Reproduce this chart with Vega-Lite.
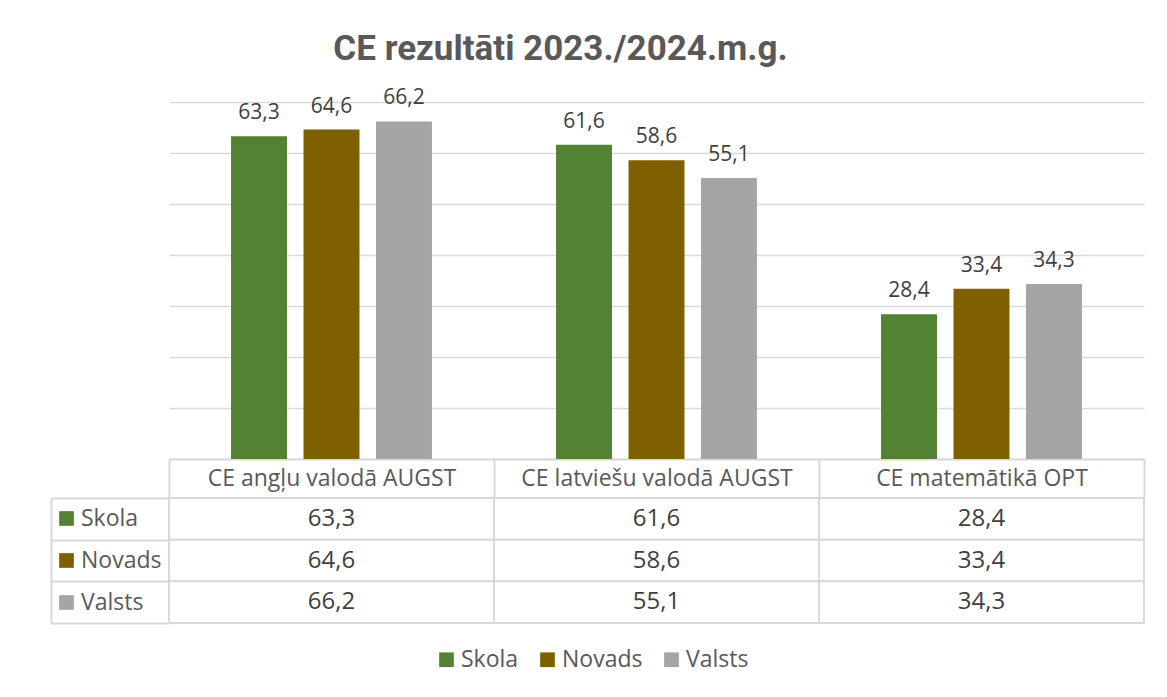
{
  "$schema": "https://vega.github.io/schema/vega-lite/v6.json",
  "background": "white",
  "padding": {"left": 50, "top": 32, "right": 24, "bottom": 20},
  "title": {"text": "CE rezultāti 2023./2024.m.g.", "font": "Roboto", "fontSize": 35, "fontWeight": "bold", "color": "#595959", "anchor": "middle", "dx": -37, "offset": 20},
  "config": {
    "view": {"stroke": null},
    "locale": {"number": {"decimal": ",", "thousands": " ", "grouping": [3], "currency": ["", " €"]}}
  },
  "datasets": {
    "scores": [
      {"cat": "CE angļu valodā AUGST", "series": "Skola", "value": 63.3},
      {"cat": "CE angļu valodā AUGST", "series": "Novads", "value": 64.6},
      {"cat": "CE angļu valodā AUGST", "series": "Valsts", "value": 66.2},
      {"cat": "CE latviešu valodā AUGST", "series": "Skola", "value": 61.6},
      {"cat": "CE latviešu valodā AUGST", "series": "Novads", "value": 58.6},
      {"cat": "CE latviešu valodā AUGST", "series": "Valsts", "value": 55.1},
      {"cat": "CE matemātikā OPT", "series": "Skola", "value": 28.4},
      {"cat": "CE matemātikā OPT", "series": "Novads", "value": 33.4},
      {"cat": "CE matemātikā OPT", "series": "Valsts", "value": 34.3}
    ]
  },
  "bounds": "flush",
  "spacing": 39,
  "vconcat": [
    {
      "width": 975,
      "height": 357,
      "data": {"name": "scores"},
      "encoding": {
        "x": {"field": "cat", "type": "nominal", "sort": ["CE angļu valodā AUGST", "CE latviešu valodā AUGST", "CE matemātikā OPT"],
          "scale": {"paddingInner": 0, "paddingOuter": 0},
          "axis": {"title": null, "orient": "bottom", "domainColor": "#d9d9d9", "domainWidth": 2, "tickBand": "extent", "tickSize": 39, "tickColor": "#d9d9d9", "tickWidth": 2, "labelFont": "Open Sans", "labelFontSize": 23, "labelColor": "#595959", "labelBaseline": "middle", "labelPadding": -19.5, "labelAngle": 0, "labelLimit": 400}},
        "xOffset": {"field": "series", "type": "nominal", "sort": ["Skola", "Novads", "Valsts"], "scale": {"paddingInner": 0.228, "paddingOuter": 0.856}},
        "y": {"field": "value", "type": "quantitative", "scale": {"domain": [0, 70]},
          "axis": {"title": null, "values": [0, 10, 20, 30, 40, 50, 60, 70], "grid": true, "gridColor": "#d9d9d9", "gridWidth": 1.5, "labels": false, "ticks": false, "domain": false}}
      },
      "layer": [
        {
          "mark": {"type": "bar"},
          "encoding": {
            "color": {"field": "series", "type": "nominal", "sort": ["Skola", "Novads", "Valsts"],
              "scale": {"domain": ["Skola", "Novads", "Valsts"], "range": ["#548235", "#7f6000", "#a5a5a5"]},
              "legend": {"orient": "none", "legendX": 266, "legendY": 546, "direction": "horizontal", "title": null, "symbolType": "square", "symbolSize": 216, "symbolStrokeWidth": 0, "labelFont": "Open Sans", "labelFontSize": 23, "labelColor": "#595959", "labelOffset": 3, "columnPadding": 17, "padding": 0}}
          }
        },
        {
          "mark": {"type": "text", "baseline": "alphabetic", "dy": -17, "font": "Open Sans", "fontSize": 21, "color": "#404040"},
          "encoding": {"text": {"field": "value", "type": "quantitative", "format": ".1f"}}
        }
      ]
    },
    {
      "width": 975,
      "height": 125,
      "data": {"name": "scores"},
      "encoding": {
        "x": {"field": "cat", "type": "nominal", "sort": ["CE angļu valodā AUGST", "CE latviešu valodā AUGST", "CE matemātikā OPT"],
          "scale": {"paddingInner": 0, "paddingOuter": 0}, "axis": null},
        "y": {"field": "series", "type": "nominal", "sort": ["Skola", "Novads", "Valsts"],
          "scale": {"paddingInner": 0, "paddingOuter": 0},
          "axis": {"title": null, "labels": false, "offset": 118, "domainColor": "#d9d9d9", "domainWidth": 2, "tickBand": "extent", "tickSize": -118, "tickColor": "#d9d9d9", "tickWidth": 2}}
      },
      "layer": [
        {"mark": {"type": "rect", "fill": "white", "stroke": "#d9d9d9", "strokeWidth": 2}},
        {"mark": {"type": "text", "font": "Open Sans", "fontSize": 24, "color": "#404040", "baseline": "middle"},
         "encoding": {"text": {"field": "value", "type": "quantitative", "format": ".1f"}}},
        {"mark": {"type": "square", "opacity": 0},
         "encoding": {"fill": {"field": "series", "type": "nominal", "sort": ["Skola", "Novads", "Valsts"],
           "scale": {"domain": ["Skola", "Novads", "Valsts"], "range": ["#548235", "#7f6000", "#a5a5a5"]},
           "legend": {"orient": "none", "legendX": -114, "legendY": 9, "direction": "vertical", "title": null, "symbolType": "square", "symbolSize": 216, "symbolOpacity": 1, "symbolStrokeWidth": 0, "labelFont": "Open Sans", "labelFontSize": 23, "labelColor": "#595959", "labelOffset": 3, "rowPadding": 18, "padding": 0}}}}
      ]
    }
  ],
  "resolve": {"scale": {"x": "independent", "y": "independent"}, "legend": {"color": "independent", "fill": "independent"}}
}
